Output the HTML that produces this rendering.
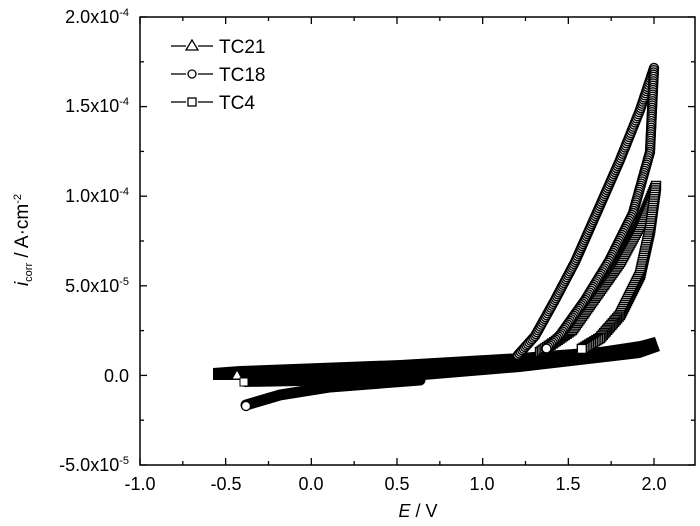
<!DOCTYPE html>
<html><head><meta charset="utf-8"><style>
body{margin:0;background:#fff;}
svg{display:block;font-family:"Liberation Sans",Arial,sans-serif;}
</style></head><body>
<svg id="s" width="700" height="526" viewBox="0 0 700 526">
<rect x="0" y="0" width="700" height="526" fill="#fff"/>
<g id="data"></g>
<rect x="140" y="17" width="555" height="448" fill="none" stroke="#000" stroke-width="1.5"/>
<g id="ticks" stroke="#000" stroke-width="1.3"></g>
<g font-size="18" fill="#000" text-anchor="end">
<text x="129" y="23">2.0x10<tspan dy="-7" font-size="11">-4</tspan></text>
<text x="129" y="112">1.5x10<tspan dy="-7" font-size="11">-4</tspan></text>
<text x="129" y="202">1.0x10<tspan dy="-7" font-size="11">-4</tspan></text>
<text x="129" y="292">5.0x10<tspan dy="-7" font-size="11">-5</tspan></text>
<text x="129" y="382">0.0</text>
<text x="129" y="471">-5.0x10<tspan dy="-7" font-size="11">-5</tspan></text>
</g>
<g font-size="18" fill="#000" text-anchor="middle">
<text x="140" y="490">-1.0</text><text x="226" y="490">-0.5</text><text x="311" y="490">0.0</text>
<text x="397" y="490">0.5</text><text x="482" y="490">1.0</text><text x="568" y="490">1.5</text><text x="654" y="490">2.0</text>
<text x="418" y="517"><tspan font-style="italic">E</tspan> / V</text>
</g>
<text transform="translate(28,240) rotate(-90)" font-size="19" text-anchor="middle"><tspan font-style="italic">i</tspan><tspan font-size="11" dy="4">corr</tspan><tspan dy="-4"> / A·cm</tspan><tspan font-size="11" dy="-7">-2</tspan></text>
<g font-size="19" fill="#000" stroke="#000" stroke-width="1.3">
<line x1="171" y1="46" x2="186" y2="46"/><line x1="198" y1="46" x2="213" y2="46"/>
<polygon points="192,40 186,50 198,50" fill="#fff"/>
<text x="219" y="53" stroke="none">TC21</text>
<line x1="171" y1="74" x2="186" y2="74"/><line x1="198" y1="74" x2="213" y2="74"/>
<circle cx="192" cy="74" r="4" fill="#fff"/>
<text x="219" y="81" stroke="none">TC18</text>
<line x1="171" y1="102" x2="186" y2="102"/><line x1="198" y1="102" x2="213" y2="102"/>
<rect x="188" y="98" width="8" height="8" fill="#fff"/>
<text x="219" y="109" stroke="none">TC4</text>
</g>
</svg>
<script>
var NS="http://www.w3.org/2000/svg";
function el(t,a,p){var e=document.createElementNS(NS,t);for(var k in a)e.setAttribute(k,a[k]);(p||document.getElementById('data')).appendChild(e);return e;}
var tk=document.getElementById('ticks');
for(var i=0;i<=12;i++){var x=140+i*(514/12);var L=(i%2==0)?7:4;el('line',{x1:x,y1:465,x2:x,y2:465-L},tk);el('line',{x1:x,y1:17,x2:x,y2:17+L},tk);}
for(var j=0;j<=10;j++){var y=17+j*44.8;var L=(j%2==0)?7:4;el('line',{x1:140,y1:y,x2:140+L,y2:y},tk);el('line',{x1:695,y1:y,x2:695-L,y2:y},tk);}
el('polygon',{points:"213,368 240,366 400,360 520,353 600,347 640,341 655,337 660,351 640,358 520,372 400,382 300,386 244,387 244,380 213,380",fill:"#000"});
el('polyline',{points:"246,405 280,395 330,387 420,380",fill:"none",stroke:"#000","stroke-width":11,"stroke-linecap":"round"});
function curve(pts,shape,step){
 for(var k=0;k<pts.length-1;k++){var a=pts[k],b=pts[k+1];var d=Math.hypot(b[0]-a[0],b[1]-a[1]);var n=Math.max(1,Math.round(d/step));
  for(var m=0;m<n;m++){var t=m/n;var x=a[0]+(b[0]-a[0])*t,y=a[1]+(b[1]-a[1])*t;
   if(shape=='c')el('circle',{cx:x,cy:y,r:4.5,fill:"#fff",stroke:"#000","stroke-width":1.4});
   else el('rect',{x:x-4.5,y:y-4.5,width:9,height:9,fill:"#fff",stroke:"#000","stroke-width":1.4});}}
}
curve([[540,352],[572,330],[596,296],[620,262],[640,225],[656,186]],'s',2.2);
curve([[656,186],[650,230],[640,275],[620,315],[600,338],[580,350]],'s',2.2);
curve([[518,355],[535,336],[555,300],[575,262],[598,210],[620,160],[640,110],[654,68]],'c',2.2);
curve([[654,68],[652,110],[650,152],[633,213],[609,261],[585,300],[560,335],[545,350]],'c',2.2);
el('circle',{cx:246,cy:406,r:4.5,fill:"#fff",stroke:"#000","stroke-width":1.3});
el('polygon',{points:"237,370 232,379 242,379",fill:"#fff",stroke:"#000"});
el('rect',{x:240,y:378,width:8,height:8,fill:"#fff",stroke:"#000"});
</script>
</body></html>
